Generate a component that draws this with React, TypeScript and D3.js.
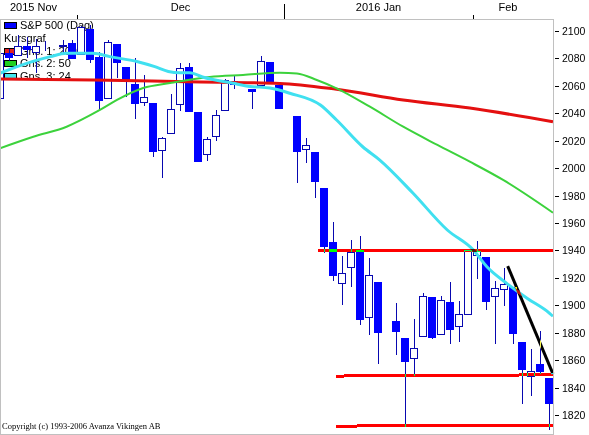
import React from 'react';
import * as d3 from 'd3';

const W = 589;
const H = 435;

// Weekday slots (holidays kept as empty slots)
const dates = [
  '2015-11-18', '2015-11-19', '2015-11-20', '2015-11-23', '2015-11-24', '2015-11-25', '2015-11-26', '2015-11-27', '2015-11-30',
  '2015-12-01', '2015-12-02', '2015-12-03', '2015-12-04', '2015-12-07', '2015-12-08', '2015-12-09', '2015-12-10', '2015-12-11',
  '2015-12-14', '2015-12-15', '2015-12-16', '2015-12-17', '2015-12-18', '2015-12-21', '2015-12-22', '2015-12-23', '2015-12-24',
  '2015-12-25', '2015-12-28', '2015-12-29', '2015-12-30', '2015-12-31', '2016-01-01', '2016-01-04', '2016-01-05', '2016-01-06',
  '2016-01-07', '2016-01-08', '2016-01-11', '2016-01-12', '2016-01-13', '2016-01-14', '2016-01-15', '2016-01-18', '2016-01-19',
  '2016-01-20', '2016-01-21', '2016-01-22', '2016-01-25', '2016-01-26', '2016-01-27', '2016-01-28', '2016-01-29', '2016-02-01',
  '2016-02-02', '2016-02-03', '2016-02-04', '2016-02-05', '2016-02-08', '2016-02-09', '2016-02-10', '2016-02-11',
];

const opens: (number | null)[] = [
  2051.0, 2083.7, 2082.8, 2089.4, 2084.4, 2089.3, null, 2088.8, 2090.9,
  2082.9, 2101.7, 2080.7, 2051.2, 2090.4, 2073.4, 2061.2, 2047.9, 2047.3,
  2013.4, 2025.6, 2046.5, 2073.8, 2040.8, 2010.3, 2023.2, 2042.2, 2063.5,
  null, 2057.8, 2060.5, 2077.3, 2060.6, null, 2038.2, 2013.8, 2011.7,
  1985.3, 1946.0, 1916.5, 1927.8, 1940.3, 1891.7, 1916.7, null, 1888.7,
  1876.2, 1861.5, 1877.4, 1906.3, 1878.8, 1902.5, 1885.2, 1894.0, 1936.9,
  1935.3, 1907.1, 1911.7, 1913.1, 1873.3, 1848.5, 1857.1, 1847.0,
];
const highs: (number | null)[] = [
  2083.6, 2086.7, 2097.1, 2095.6, 2094.1, 2093.0, null, 2093.3, 2093.8,
  2103.4, 2104.3, 2085.0, 2093.8, 2090.4, 2073.9, 2080.3, 2067.6, 2047.3,
  2022.9, 2053.9, 2076.7, 2076.4, 2040.8, 2022.9, 2042.7, 2064.7, 2067.4,
  null, 2057.8, 2081.6, 2077.3, 2062.5, null, 2038.2, 2021.9, 2011.7,
  1985.3, 1960.4, 1935.7, 1947.4, 1950.3, 1934.5, 1916.7, null, 1901.4,
  1876.2, 1889.9, 1908.9, 1906.3, 1906.7, 1917.0, 1903.0, 1940.2, 1947.2,
  1935.3, 1918.0, 1927.4, 1913.1, 1873.3, 1868.3, 1881.6, 1847.0,
];
const lows: (number | null)[] = [
  2051.0, 2078.8, 2082.8, 2081.4, 2070.3, 2086.3, null, 2084.1, 2080.4,
  2082.9, 2077.1, 2042.4, 2051.2, 2066.8, 2052.3, 2036.5, 2045.7, 2008.8,
  1993.3, 2025.6, 2042.4, 2041.7, 2005.3, 2005.9, 2020.5, 2042.2, 2058.7,
  null, 2044.2, 2060.5, 2062.0, 2043.6, null, 1989.7, 2004.2, 1979.1,
  1938.8, 1918.5, 1901.1, 1914.4, 1886.3, 1878.9, 1857.8, null, 1864.6,
  1812.3, 1849.0, 1877.4, 1876.0, 1878.8, 1872.7, 1873.7, 1894.0, 1920.0,
  1897.3, 1872.2, 1900.5, 1872.6, 1828.5, 1834.9, 1850.3, 1810.1,
];
const closes: (number | null)[] = [
  2083.6, 2081.2, 2089.2, 2086.6, 2089.1, 2088.9, null, 2090.1, 2080.4,
  2102.6, 2079.5, 2049.6, 2091.7, 2077.1, 2063.6, 2047.6, 2052.2, 2012.4,
  2021.9, 2043.4, 2073.1, 2041.9, 2005.5, 2021.2, 2039.0, 2064.3, 2061.0,
  null, 2056.5, 2078.4, 2063.4, 2043.9, null, 2012.7, 2016.7, 1990.3,
  1943.1, 1922.0, 1923.7, 1938.7, 1890.3, 1921.8, 1880.3, null, 1881.3,
  1859.3, 1869.0, 1906.9, 1877.1, 1903.6, 1883.0, 1893.4, 1940.2, 1939.4,
  1903.0, 1912.5, 1915.5, 1880.1, 1853.4, 1852.2, 1851.9, 1829.1,
];

// Moving averages: [slot index, value]
const ma1: [number, number][] = [
  [0, 2065], [10.4, 2064.3], [20.8, 2063], [31.1, 2061.8], [37.4, 2057.5],
  [44.8, 2049.7], [52.2, 2043.8], [61.44, 2033.8],
];
const ma2: [number, number][] = [
  [0, 2014.5], [3.7, 2022.9], [7.4, 2030.2], [11.1, 2042.4], [13, 2049.7], [15.9, 2058.4],
  [18.9, 2062.1], [23.3, 2066.5], [27, 2068], [31.1, 2069.6], [33, 2069], [35.2, 2064.3],
  [37.4, 2058.2], [41.1, 2044.8], [44.8, 2030.2], [48.6, 2016.9], [52.2, 2004.7],
  [55.9, 1991.4], [61.44, 1967.5],
];
const ma3: [number, number][] = [
  [0, 2069.2], [1.9, 2074], [5.6, 2081.3], [7.4, 2083.7], [10.3, 2083.7], [12.2, 2081.3],
  [15.3, 2077.6], [17.2, 2074], [18.7, 2070.5], [20, 2069.6], [21.1, 2069.6], [22.5, 2066.5],
  [25.9, 2061.9], [27.8, 2059.6], [30, 2058.4], [32.2, 2054.6], [35.6, 2046], [37.4, 2035.1],
  [40.3, 2015.6], [42.2, 2005.9], [45.9, 1981.7], [49.7, 1954.9], [52.6, 1940.3],
  [54.1, 1928.1], [56.3, 1916], [58.6, 1905], [61.1, 1894], [61.44, 1892],
];

// Drawn support / resistance lines and trend line: [slot index, value]
const hLines: [number, number][][] = [
  [[35.33, 1940.1], [61.44, 1940.1]],
  [[37.33, 1848.4], [61.44, 1849.3]],
  [[37.33, 1811.9], [61.44, 1812.6]],
];
const trendLine: [number, number][] = [[56.41, 1928.6], [61.44, 1850.0]];

const yTicks = [2100, 2080, 2060, 2040, 2020, 2000, 1980, 1960, 1940, 1920, 1900, 1880, 1860, 1840, 1820];
const monthLabels = ['2015 Nov', 'Dec', '2016 Jan', 'Feb'];
const legendLabels = ['S&P 500 (Dag)', 'Kursgraf', 'Gns. 1: 200', 'Gns. 2: 50', 'Gns. 3: 24'];

const BLUE = '#0000ff';
const WICK = '#0808b0';
const RED_MA = '#e41010';
const GREEN_MA = '#3cd23c';
const CYAN_MA = '#40e0f0';
const FRAME = '#c0c0c0';
const FONT = '"Liberation Sans", Arial, sans-serif';

export default function App() {
  const plotL = 0, plotR = 553, plotT = 19, plotB = 434;
  const x = d3.scaleLinear().domain([0, 61]).range([0, 549]);
  const y = d3.scaleLinear().domain([1820, 2100]).range([415, 31]);

  const maLine = d3.line<[number, number]>()
    .x(d => x(d[0]))
    .y(d => y(d[1]))
    .curve(d3.curveMonotoneX);
  const straight = d3.line<[number, number]>().x(d => x(d[0])).y(d => y(d[1]));

  // month boundaries
  const bounds: { x: number; tall: boolean }[] = [];
  for (let i = 1; i < dates.length; i++) {
    const a = dates[i - 1].slice(0, 7), b = dates[i].slice(0, 7);
    if (a !== b) bounds.push({ x: Math.round((x(i - 1) + x(i)) / 2), tall: a.slice(0, 4) !== b.slice(0, 4) });
  }
  const edges = [plotL, ...bounds.map(b => b.x), plotR - 10];

  const candles = dates.map((d, i) => {
    const o = opens[i], h = highs[i], l = lows[i], c = closes[i];
    if (o == null || h == null || l == null || c == null) return null;
    const xc = Math.round(x(i));
    const top = Math.round(y(Math.max(o, c))) + 0.5;
    const bot = Math.round(y(Math.min(o, c))) + 0.5;
    const up = c >= o;
    return (
      <g key={d}>
        <line x1={xc + 0.5} x2={xc + 0.5} y1={Math.round(y(h))} y2={Math.round(y(l)) + 1} stroke={WICK} strokeWidth={1} />
        <rect x={xc - 3.5} y={top} width={7} height={Math.max(bot - top, 0)}
          fill={up ? '#ffffff' : BLUE} stroke={up ? WICK : BLUE} strokeWidth={1} />
      </g>
    );
  });

  const legendColors = [BLUE, null, '#e02020', '#20d020', '#40e8f0'];

  return (
    <svg width={W} height={H} style={{ position: 'absolute', left: 0, top: 0, display: 'block' }}
      xmlns="http://www.w3.org/2000/svg">
      <rect x={0} y={0} width={W} height={H} fill="#ffffff" />

      {/* legend (drawn under the marks) */}
      {legendLabels.map((t, k) => {
        const top = 22 + k * 12.75;
        const col = legendColors[k];
        return (
          <g key={t}>
            {col && <rect x={4.5} y={Math.round(top) + 0.5} width={12} height={6} fill={col} stroke="#000" strokeWidth={1} />}
            <text x={col ? 20 : 4} y={top + 7} fontFamily={FONT} fontSize={11} fill="#000">{t}</text>
          </g>
        );
      })}

      {candles}

      <path d={maLine(ma1) || ''} fill="none" stroke={RED_MA} strokeWidth={3} />
      <path d={maLine(ma2) || ''} fill="none" stroke={GREEN_MA} strokeWidth={2} />
      <path d={maLine(ma3) || ''} fill="none" stroke={CYAN_MA} strokeWidth={3} />

      {/* drawn lines with NOT-XOR pen: inverted colour + difference blend */}
      {hLines.map((ln, k) => (
        <path key={k} d={straight(ln) || ''} fill="none" stroke="#00ffff" strokeWidth={3}
          shapeRendering="crispEdges" style={{ mixBlendMode: 'difference' }} />
      ))}
      <path d={straight(trendLine) || ''} fill="none" stroke="#ffffff" strokeWidth={3}
        style={{ mixBlendMode: 'difference' }} />

      {/* frame */}
      <line x1={plotL} x2={plotR + 0.5} y1={plotT + 0.5} y2={plotT + 0.5} stroke={FRAME} />
      <line x1={plotR + 0.5} x2={plotR + 0.5} y1={plotT} y2={plotB + 1} stroke={FRAME} />
      <line x1={plotL + 0.5} x2={plotL + 0.5} y1={plotT} y2={plotB + 1} stroke={FRAME} />
      <line x1={plotL} x2={plotR + 0.5} y1={plotB + 0.5} y2={plotB + 0.5} stroke={FRAME} />

      {/* top month axis */}
      {bounds.map((b, k) => (
        <line key={k} x1={b.x + 0.5} x2={b.x + 0.5} y1={b.tall ? 4 : 15} y2={plotT} stroke="#000" strokeWidth={1} />
      ))}
      {monthLabels.map((m, k) => {
        const cx = (edges[k] + edges[k + 1]) / 2;
        return k === 0 ? (
          <text key={m} x={10} y={11} fontFamily={FONT} fontSize={11} fill="#000">{m}</text>
        ) : (
          <text key={m} x={cx} y={11} textAnchor="middle" fontFamily={FONT} fontSize={11} fill="#000">{m}</text>
        );
      })}

      {/* right value axis */}
      {yTicks.map(v => (
        <g key={v}>
          <line x1={555} x2={559} y1={Math.round(y(v)) + 0.5} y2={Math.round(y(v)) + 0.5} stroke="#000" />
          <text x={562} y={y(v) + 4} fontFamily={FONT} fontSize={10.5} fill="#000">{v}</text>
        </g>
      ))}

      <text x={2} y={429} fontFamily='"Liberation Serif", "Times New Roman", serif' fontSize={8.5} fill="#000">
        Copyright (c) 1993-2006 Avanza Vikingen AB
      </text>
    </svg>
  );
}
